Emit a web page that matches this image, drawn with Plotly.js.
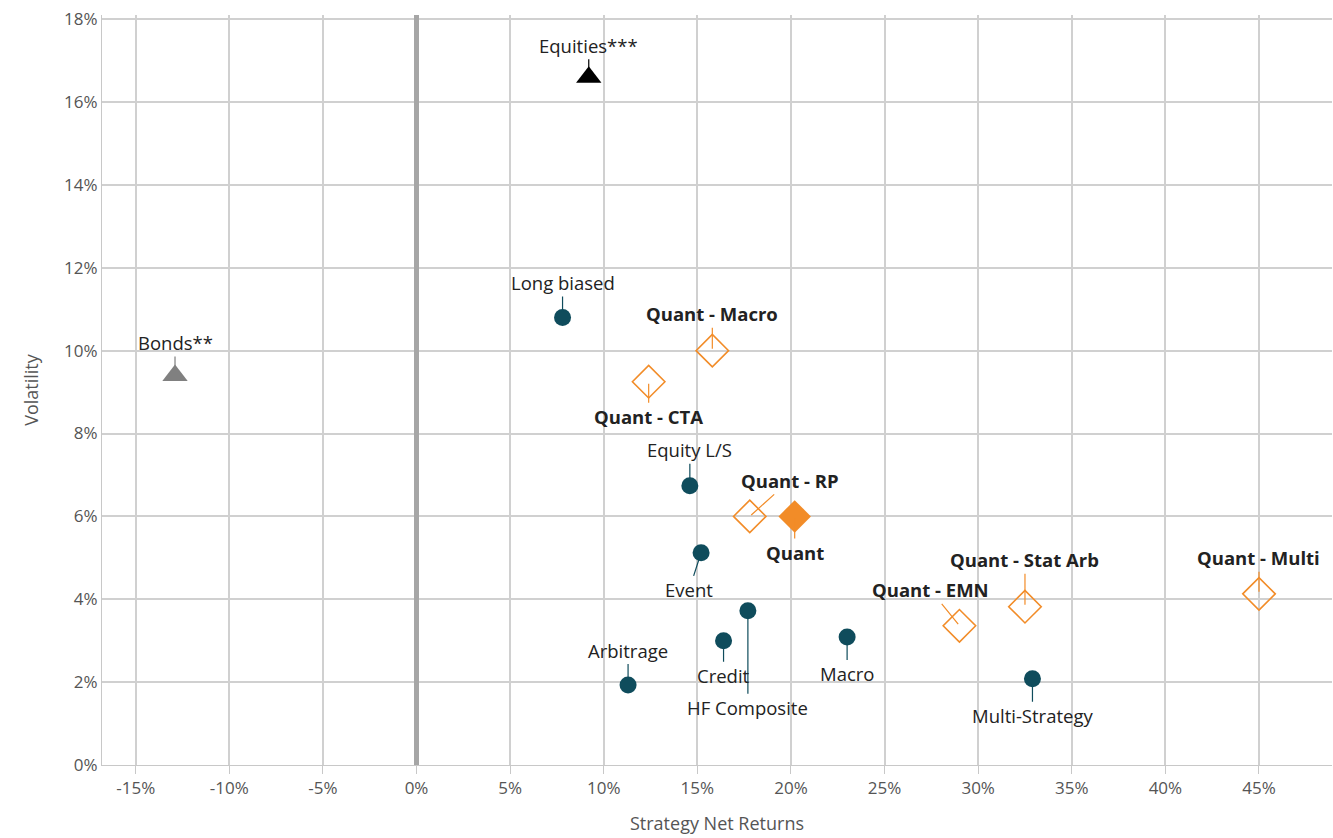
<!DOCTYPE html>
<html>
<head>
<meta charset="utf-8">
<script src="https://cdn.plot.ly/plotly-3.0.1.min.js"></script>
<style>body{margin:0}#chart{width:1333px;height:838px}</style>
</head>
<body>
<div id="chart"></div>
<script>
// values (returns %, volatility %)
let hfNames = ["Long biased", "Equity L/S", "Event", "HF Composite", "Credit", "Arbitrage", "Macro", "Multi-Strategy"]
let hfX = [7.8, 14.6, 15.2, 17.7, 16.4, 11.3, 23.0, 32.9]
let hfY = [10.8, 6.74, 5.12, 3.72, 3.0, 1.93, 3.09, 2.08]
let hfOff = [[0, -35], [0, -36], [-12, 37], [0, 97], [0, 35], [0, -35], [0, 37], [0, 37]]

let qNames = ["Quant - Macro", "Quant - CTA", "Quant - RP", "Quant - EMN", "Quant - Stat Arb", "Quant - Multi"]
let qX = [15.8, 12.4, 17.8, 29.0, 32.5, 45.0]
let qY = [10.0, 9.25, 6.0, 3.36, 3.82, 4.13]
let qOff = [[0, -37], [0, 35], [40, -36], [-29, -36], [0, -47], [0, -36]]

let quantX = [20.2], quantY = [6.0]
let eqX = [9.2], eqY = [16.6]
let bondX = [-12.9], bondY = [9.4]

let xTicks = [-15, -10, -5, 0, 5, 10, 15, 20, 25, 30, 35, 40, 45]
let yTicks = [0, 2, 4, 6, 8, 10, 12, 14, 16, 18]

const teal = "#0f4c5c", orange = "#f28c28"
let traces = [
  {x: hfX, y: hfY, mode: "markers", marker: {color: teal, size: 17}},
  {x: qX, y: qY, mode: "markers", marker: {color: orange, symbol: "diamond-open", size: 25, line: {color: orange, width: 1.6}}},
  {x: quantX, y: quantY, mode: "markers", marker: {color: orange, symbol: "diamond", size: 25}},
  {x: eqX, y: eqY, mode: "markers", marker: {color: "black", symbol: "triangle-up", size: 22}},
  {x: bondX, y: bondY, mode: "markers", marker: {color: "#808080", symbol: "triangle-up", size: 22}}
]

let annotations = []
function addLabels(names, xs, ys, offs, bold, col) {
  names.forEach((n, i) => {
    annotations.push({
      x: xs[i], y: ys[i], text: bold ? "<b>" + n + "</b>" : n,
      showarrow: true, arrowhead: 0, arrowwidth: 1.2, ax: offs[i][0], ay: offs[i][1],
      arrowcolor: col, standoff: bold ? 2 : 6,
      font: {size: 18.5, color: "#222"}
    })
  })
}
addLabels(hfNames, hfX, hfY, hfOff, false, teal)
addLabels(qNames, qX, qY, qOff, true, orange)
addLabels(["Quant"], quantX, quantY, [[0, 36]], true, orange)
addLabels(["Equities***"], eqX, eqY, [[0, -32]], false, "black")
addLabels(["Bonds**"], bondX, bondY, [[0, -33]], false, "#808080")

let layout = {
  showlegend: false,
  margin: {l: 102, r: 1, t: 15, b: 73},
  font: {family: "Open Sans, sans-serif", color: "#555"},
  plot_bgcolor: "white", paper_bgcolor: "white",
  xaxis: {
    range: [-16.8, 48.9], tickvals: xTicks, ticktext: xTicks.map(v => v + "%"),
    gridcolor: "#d0d0d0", gridwidth: 1.5, zeroline: true, zerolinecolor: "#a6a6a6", zerolinewidth: 5,
    showline: true, linecolor: "#c8c8c8", ticks: "outside", tickcolor: "#c8c8c8", ticklen: 8,
    tickfont: {size: 17, color: "#555"},
    title: {text: "Strategy Net Returns", font: {size: 18, color: "#555"}, standoff: 18}
  },
  yaxis: {
    range: [0, 18.1], tickvals: yTicks, ticktext: yTicks.map(v => v + "%"),
    gridcolor: "#d0d0d0", gridwidth: 1.5, zeroline: false,
    showline: true, linecolor: "#c8c8c8",
    tickfont: {size: 17, color: "#555"},
    title: {text: "Volatility", font: {size: 18, color: "#555"}, standoff: 20}
  },
  annotations: annotations
}
Plotly.newPlot("chart", traces, layout, {displayModeBar: false})
</script>
</body>
</html>
